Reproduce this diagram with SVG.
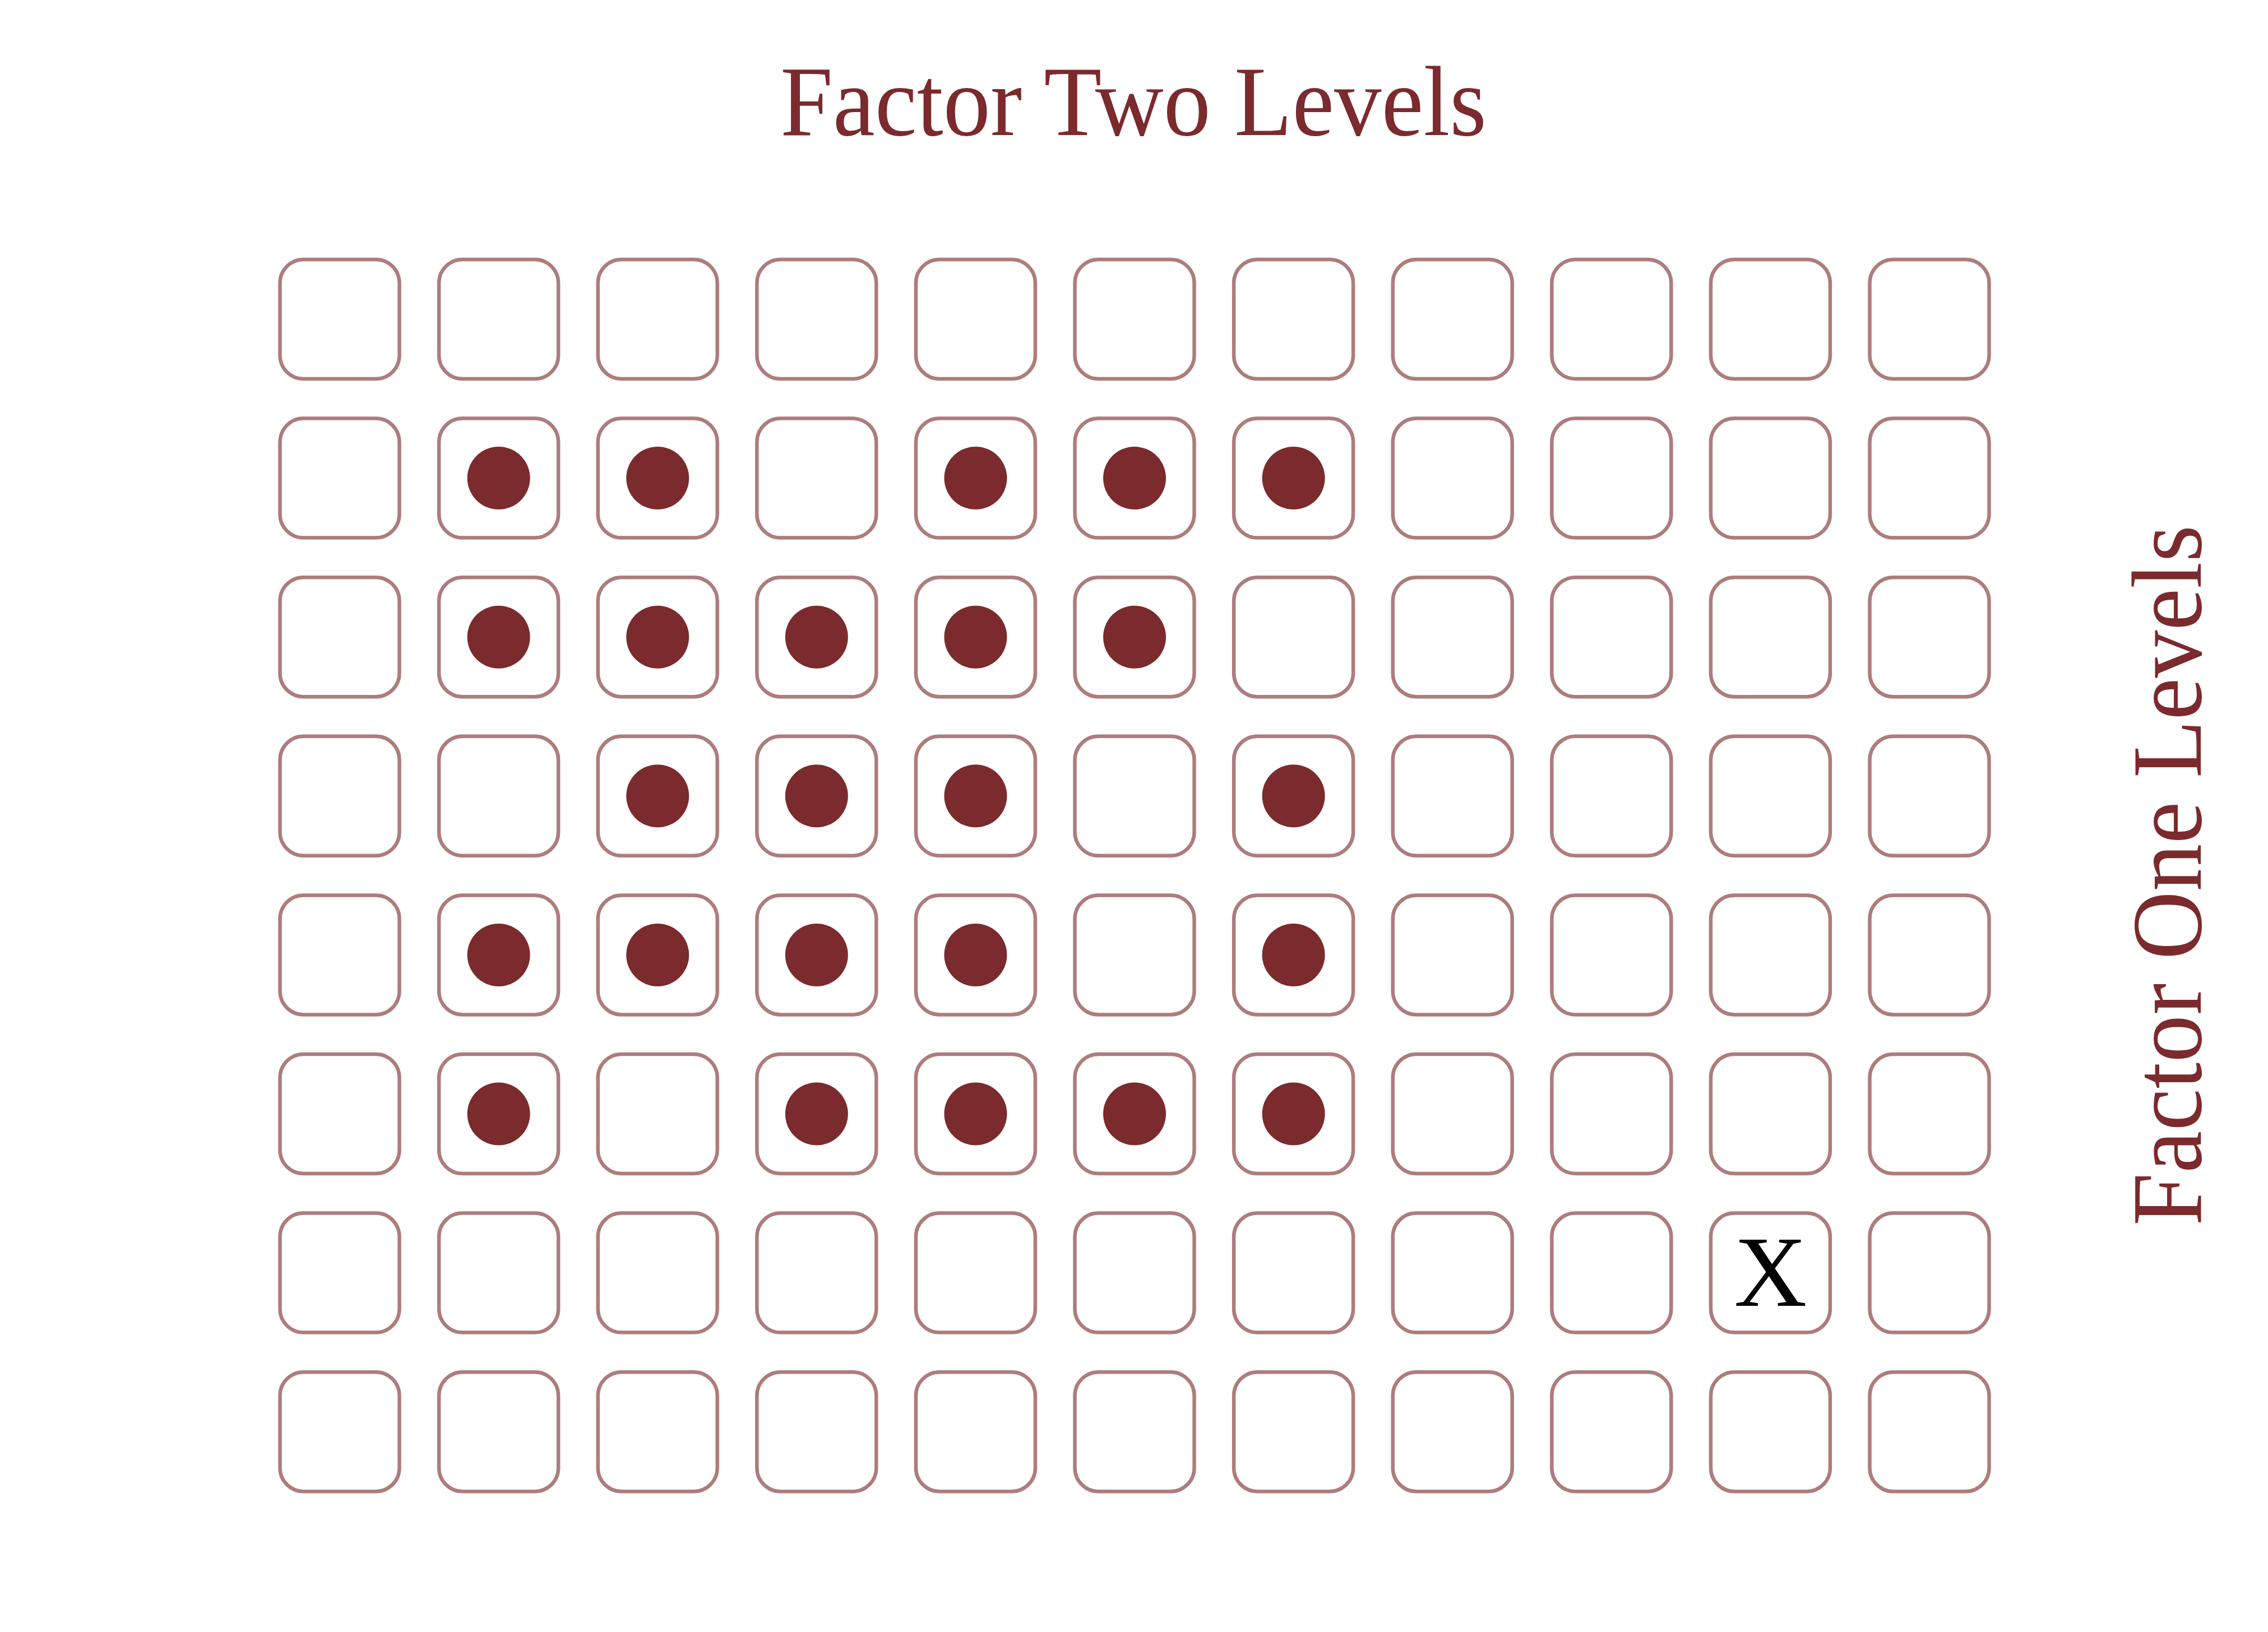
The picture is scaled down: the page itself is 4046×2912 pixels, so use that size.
<svg xmlns="http://www.w3.org/2000/svg" width="4046" height="2912" viewBox="0 0 4046 2912">
<style>
.cell{fill:#ffffff;stroke:#ad7d7b;stroke-width:6.5}
.dot{fill:#7b2a2d}
.lbl{font-family:"Liberation Serif","DejaVu Serif",serif;fill:#7b2a2d;font-size:178px}
.x{font-family:"Liberation Serif","DejaVu Serif",serif;fill:#000000;font-size:180px}
</style>
<rect width="4046" height="2912" fill="#ffffff"/>
<defs>
<rect id="box" class="cell" x="-106.5" y="-106.5" width="213" height="213" rx="42" ry="42"/>
</defs>
<g id="title"><text class="lbl" x="2022" y="241" text-anchor="middle" textLength="1260" lengthAdjust="spacingAndGlyphs">Factor Two Levels</text></g>
<g id="ylabel"><text class="lbl" transform="translate(3926,1562) rotate(-90)" x="0" y="0" text-anchor="middle" textLength="1250" lengthAdjust="spacingAndGlyphs">Factor One Levels</text></g>
<g id="grid">
<g id="r0">
<use href="#box" x="606" y="569.5"/><use href="#box" x="889.6" y="569.5"/><use href="#box" x="1173.2" y="569.5"/><use href="#box" x="1456.8" y="569.5"/><use href="#box" x="1740.4" y="569.5"/><use href="#box" x="2024" y="569.5"/><use href="#box" x="2307.6" y="569.5"/><use href="#box" x="2591.2" y="569.5"/><use href="#box" x="2874.8" y="569.5"/><use href="#box" x="3158.4" y="569.5"/><use href="#box" x="3442" y="569.5"/>
</g>
<g id="r1">
<use href="#box" x="606" y="853.1"/><use href="#box" x="889.6" y="853.1"/><use href="#box" x="1173.2" y="853.1"/><use href="#box" x="1456.8" y="853.1"/><use href="#box" x="1740.4" y="853.1"/><use href="#box" x="2024" y="853.1"/><use href="#box" x="2307.6" y="853.1"/><use href="#box" x="2591.2" y="853.1"/><use href="#box" x="2874.8" y="853.1"/><use href="#box" x="3158.4" y="853.1"/><use href="#box" x="3442" y="853.1"/>
</g>
<g id="r2">
<use href="#box" x="606" y="1136.7"/><use href="#box" x="889.6" y="1136.7"/><use href="#box" x="1173.2" y="1136.7"/><use href="#box" x="1456.8" y="1136.7"/><use href="#box" x="1740.4" y="1136.7"/><use href="#box" x="2024" y="1136.7"/><use href="#box" x="2307.6" y="1136.7"/><use href="#box" x="2591.2" y="1136.7"/><use href="#box" x="2874.8" y="1136.7"/><use href="#box" x="3158.4" y="1136.7"/><use href="#box" x="3442" y="1136.7"/>
</g>
<g id="r3">
<use href="#box" x="606" y="1420.3"/><use href="#box" x="889.6" y="1420.3"/><use href="#box" x="1173.2" y="1420.3"/><use href="#box" x="1456.8" y="1420.3"/><use href="#box" x="1740.4" y="1420.3"/><use href="#box" x="2024" y="1420.3"/><use href="#box" x="2307.6" y="1420.3"/><use href="#box" x="2591.2" y="1420.3"/><use href="#box" x="2874.8" y="1420.3"/><use href="#box" x="3158.4" y="1420.3"/><use href="#box" x="3442" y="1420.3"/>
</g>
<g id="r4">
<use href="#box" x="606" y="1703.9"/><use href="#box" x="889.6" y="1703.9"/><use href="#box" x="1173.2" y="1703.9"/><use href="#box" x="1456.8" y="1703.9"/><use href="#box" x="1740.4" y="1703.9"/><use href="#box" x="2024" y="1703.9"/><use href="#box" x="2307.6" y="1703.9"/><use href="#box" x="2591.2" y="1703.9"/><use href="#box" x="2874.8" y="1703.9"/><use href="#box" x="3158.4" y="1703.9"/><use href="#box" x="3442" y="1703.9"/>
</g>
<g id="r5">
<use href="#box" x="606" y="1987.5"/><use href="#box" x="889.6" y="1987.5"/><use href="#box" x="1173.2" y="1987.5"/><use href="#box" x="1456.8" y="1987.5"/><use href="#box" x="1740.4" y="1987.5"/><use href="#box" x="2024" y="1987.5"/><use href="#box" x="2307.6" y="1987.5"/><use href="#box" x="2591.2" y="1987.5"/><use href="#box" x="2874.8" y="1987.5"/><use href="#box" x="3158.4" y="1987.5"/><use href="#box" x="3442" y="1987.5"/>
</g>
<g id="r6">
<use href="#box" x="606" y="2271.1"/><use href="#box" x="889.6" y="2271.1"/><use href="#box" x="1173.2" y="2271.1"/><use href="#box" x="1456.8" y="2271.1"/><use href="#box" x="1740.4" y="2271.1"/><use href="#box" x="2024" y="2271.1"/><use href="#box" x="2307.6" y="2271.1"/><use href="#box" x="2591.2" y="2271.1"/><use href="#box" x="2874.8" y="2271.1"/><use href="#box" x="3158.4" y="2271.1"/><use href="#box" x="3442" y="2271.1"/>
</g>
<g id="r7">
<use href="#box" x="606" y="2554.7"/><use href="#box" x="889.6" y="2554.7"/><use href="#box" x="1173.2" y="2554.7"/><use href="#box" x="1456.8" y="2554.7"/><use href="#box" x="1740.4" y="2554.7"/><use href="#box" x="2024" y="2554.7"/><use href="#box" x="2307.6" y="2554.7"/><use href="#box" x="2591.2" y="2554.7"/><use href="#box" x="2874.8" y="2554.7"/><use href="#box" x="3158.4" y="2554.7"/><use href="#box" x="3442" y="2554.7"/>
</g>
</g>
<g id="dots">
<circle class="dot" cx="889.6" cy="853.1" r="56"/><circle class="dot" cx="1173.2" cy="853.1" r="56"/><circle class="dot" cx="1740.4" cy="853.1" r="56"/><circle class="dot" cx="2024" cy="853.1" r="56"/><circle class="dot" cx="2307.6" cy="853.1" r="56"/>
<circle class="dot" cx="889.6" cy="1136.7" r="56"/><circle class="dot" cx="1173.2" cy="1136.7" r="56"/><circle class="dot" cx="1456.8" cy="1136.7" r="56"/><circle class="dot" cx="1740.4" cy="1136.7" r="56"/><circle class="dot" cx="2024" cy="1136.7" r="56"/>
<circle class="dot" cx="1173.2" cy="1420.3" r="56"/><circle class="dot" cx="1456.8" cy="1420.3" r="56"/><circle class="dot" cx="1740.4" cy="1420.3" r="56"/><circle class="dot" cx="2307.6" cy="1420.3" r="56"/>
<circle class="dot" cx="889.6" cy="1703.9" r="56"/><circle class="dot" cx="1173.2" cy="1703.9" r="56"/><circle class="dot" cx="1456.8" cy="1703.9" r="56"/><circle class="dot" cx="1740.4" cy="1703.9" r="56"/><circle class="dot" cx="2307.6" cy="1703.9" r="56"/>
<circle class="dot" cx="889.6" cy="1987.5" r="56"/><circle class="dot" cx="1456.8" cy="1987.5" r="56"/><circle class="dot" cx="1740.4" cy="1987.5" r="56"/><circle class="dot" cx="2024" cy="1987.5" r="56"/><circle class="dot" cx="2307.6" cy="1987.5" r="56"/>
</g>
<g id="mark"><text class="x" x="3158.4" y="2330" text-anchor="middle">X</text></g>
<g id="connectors"></g>
</svg>
